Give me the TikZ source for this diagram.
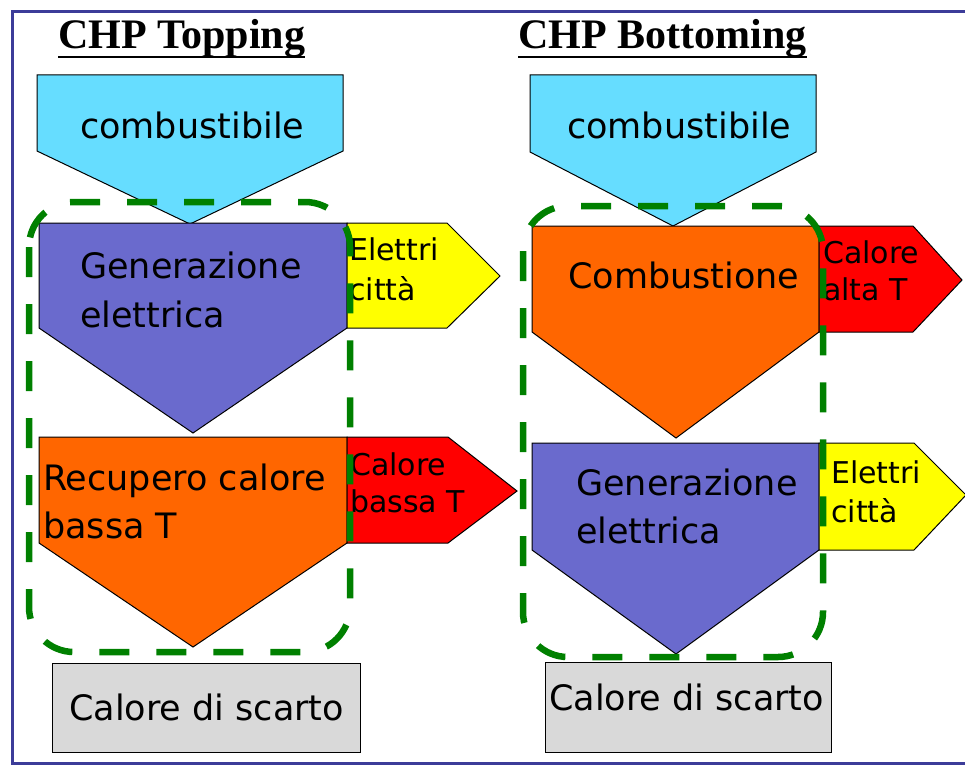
\documentclass[tikz,border=0pt]{standalone}
\usepackage{fontspec}
\setmainfont{DejaVu Sans}
\newfontfamily\titlefont{Liberation Serif}
\definecolor{cyanfill}{HTML}{66DDFF}
\definecolor{purplefill}{HTML}{6A6ACD}
\definecolor{orangefill}{HTML}{FF6600}
\definecolor{redfill}{HTML}{FF0000}
\definecolor{yellowfill}{HTML}{FFFF00}
\definecolor{greyfill}{HTML}{D9D9D9}
\definecolor{groupgreen}{HTML}{008000}
\definecolor{framecol}{HTML}{3C3C99}
\begin{document}
\begin{tikzpicture}[x=1pt,y=-1pt,
  block/.style={draw=black, line width=1pt, line join=miter},
  group/.style={draw=groupgreen, line width=6.5pt, dash pattern=on 30pt off 27pt, rounded corners=45pt},
  lbl/.style={anchor=base west, inner sep=0pt, text=black},
  big/.style={lbl, font=\fontsize{35}{40}\selectfont},
  small/.style={lbl, font=\fontsize{30}{36}\selectfont},
  titletext/.style={anchor=base west, inner sep=0pt, font=\titlefont\bfseries\fontsize{42}{48}\selectfont}
]
\useasboundingbox (0,0) rectangle (965,765);
% frame
\draw[framecol, line width=3pt] (965,12) -- (12,12) -- (12,763) -- (965,763);

% titles
\node[titletext] (t1) at (58,49) {CHP Topping};
\node[titletext] (t2) at (518,49) {CHP Bottoming};
\draw[line width=2.5pt] ([yshift=-8pt]t1.base west) -- ([yshift=-8pt]t1.base east);
\draw[line width=2.5pt] ([yshift=-8pt]t2.base west) -- ([yshift=-8pt]t2.base east);

% ---------- left column (topping)
\draw[block, fill=cyanfill] (37,75) -- (343,75) -- (343,151) -- (190,224) -- (37,151) -- cycle;
\draw[block, fill=purplefill] (39,223) -- (347,223) -- (347,328) -- (193,433) -- (39,328) -- cycle;
\draw[block, fill=yellowfill] (347,223) -- (447,223) -- (500,276) -- (447,328) -- (347,328) -- cycle;
\draw[block, fill=orangefill] (39,437) -- (347,437) -- (347,543) -- (193,647) -- (39,543) -- cycle;
\draw[block, fill=redfill] (347,437) -- (448,437) -- (517,491) -- (448,543) -- (347,543) -- cycle;
\draw[block, fill=greyfill] (52,663) rectangle (360,752);

% ---------- right column (bottoming)
\draw[block, fill=cyanfill] (530,75) -- (816,75) -- (816,152) -- (673,226) -- (530,152) -- cycle;
\draw[block, fill=orangefill] (532,226) -- (819,226) -- (819,332) -- (676,438) -- (532,332) -- cycle;
\draw[block, fill=redfill] (819,226) -- (913,226) -- (962,280) -- (913,332) -- (819,332) -- cycle;
\draw[block, fill=purplefill] (532,443) -- (819,443) -- (819,550) -- (676,654) -- (532,550) -- cycle;
\draw[block, fill=yellowfill] (819,443) -- (914,443) -- (966,495) -- (914,550) -- (819,550) -- cycle;
\draw[block, fill=greyfill] (545,662) rectangle (831,752);

% labels left
\node[big] (lcomb) at (80,138) {combustibile};
\node[big] (lgen1) at (80,278) {Generazione};
\node[big] (lgen2) at (80,327) {elettrica};
\node[small] (lel1) at (349,260) {Elettri};
\node[small] (lel2) at (349,300) {città};
\node[big] (lrec1) at (43,490) {Recupero calore};
\node[big] (lrec2) at (43,538) {bassa T};
\node[small] (lcb1) at (350,475) {Calore};
\node[small] (lcb2) at (350,512) {bassa T};
\node[big] (lscarto) at (69,720) {Calore di scarto};

% labels right
\node[big] (rcomb) at (567,138) {combustibile};
\node[big] (rcombust) at (568,288) {Combustione};
\node[small] (rca1) at (823,263) {Calore};
\node[small] (rca2) at (823,300) {alta T};
\node[big] (rgen1) at (576,495) {Generazione};
\node[big] (rgen2) at (576,543) {elettrica};
\node[small] (rel1) at (831,483) {Elettri};
\node[small] (rel2) at (831,522) {città};
\node[big] (rscarto) at (549,710) {Calore di scarto};

% green dashed groups
\draw[group] (29,202) rectangle (350,652);
\draw[group] (523,206) rectangle (823,657);
\end{tikzpicture}
\end{document}
